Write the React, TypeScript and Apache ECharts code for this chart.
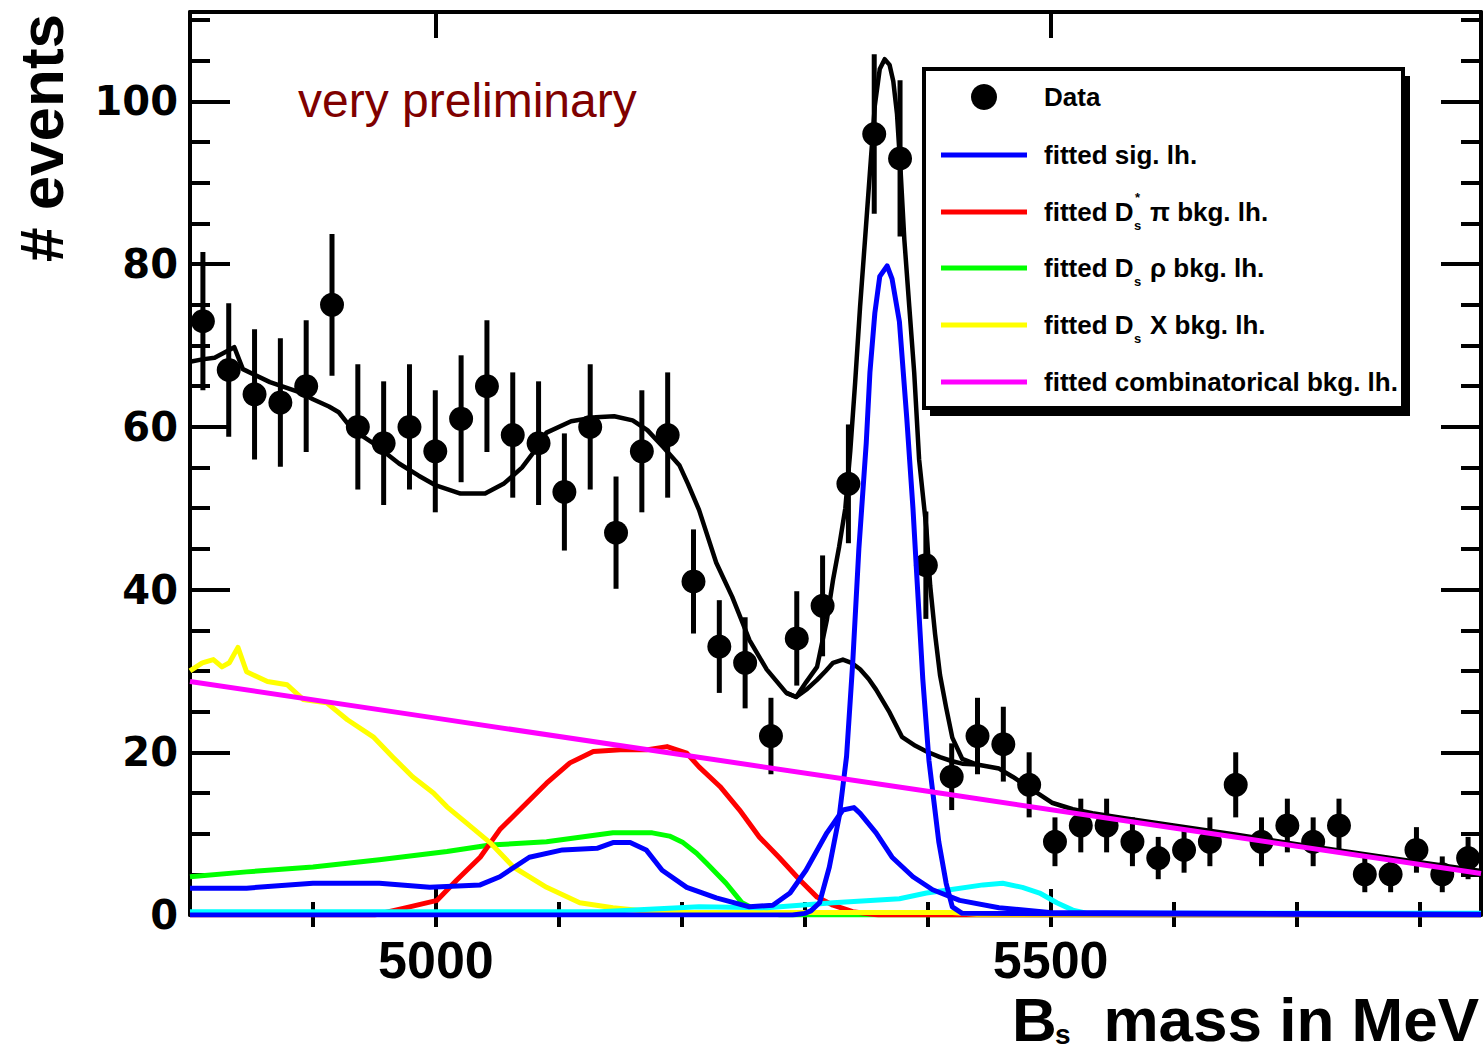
import React, { useEffect, useRef } from 'react';
import * as echarts from 'echarts';

// ---- Data histogram (bin centers in MeV, counts, errors) ----
const BIN_CENTERS = [
  4810.5, 4831.5, 4852.5, 4873.5, 4894.5, 4915.5, 4936.5, 4957.5, 4978.5, 4999.5,
  5020.5, 5041.5, 5062.5, 5083.5, 5104.5, 5125.5, 5146.5, 5167.5, 5188.5, 5209.5,
  5230.5, 5251.5, 5272.5, 5293.5, 5314.5, 5335.5, 5356.5, 5377.5, 5398.5, 5419.5,
  5440.5, 5461.5, 5482.5, 5503.5, 5524.5, 5545.5, 5566.5, 5587.5, 5608.5, 5629.5,
  5650.5, 5671.5, 5692.5, 5713.5, 5734.5, 5755.5, 5776.5, 5797.5, 5818.5, 5839.5,
];
const COUNTS = [
  73, 67, 64, 63, 65, 75, 60, 58, 60, 57,
  61, 65, 59, 58, 52, 60, 47, 57, 59, 41,
  33, 31, 22, 34, 38, 53, 96, 93, 43, 17,
  22, 21, 16, 9, 11, 11, 9, 7, 8, 9,
  16, 9, 11, 9, 11, 5, 5, 8, 5, 7,
];
const ERRORS = [
  8.5, 8.2, 8.0, 7.9, 8.1, 8.7, 7.7, 7.6, 7.7, 7.5,
  7.8, 8.1, 7.7, 7.6, 7.2, 7.7, 6.9, 7.5, 7.7, 6.4,
  5.7, 5.6, 4.7, 5.8, 6.2, 7.3, 9.8, 9.6, 6.6, 4.1,
  4.7, 4.6, 4.0, 3.0, 3.3, 3.3, 3.0, 2.6, 2.8, 3.0,
  4.0, 3.0, 3.3, 3.0, 3.3, 2.2, 2.2, 2.8, 2.2, 2.6,
];

// ---- Fit curves ----
const TOTAL_X = [4800, 4810, 4820, 4830, 4836, 4843, 4865, 4890, 4900, 4913, 4921, 4932, 4948, 4970, 4986, 5000, 5020, 5040, 5055, 5070, 5080, 5090, 5110, 5130, 5145, 5160, 5172, 5185, 5198, 5205, 5214, 5228, 5241, 5255, 5269, 5285, 5293, 5301, 5310, 5318, 5323, 5328, 5333, 5337, 5341, 5345, 5349, 5353, 5357, 5361, 5365, 5369, 5372, 5375, 5378, 5381, 5385, 5389, 5393, 5399, 5402, 5406, 5410, 5415, 5420, 5428, 5440, 5458, 5469, 5485, 5501, 5518, 5534, 5560, 5600, 5650, 5700, 5750, 5800, 5850];
const TOTAL_Y = [68.0, 68.3, 68.5, 69.3, 69.8, 67.1, 65.5, 64.2, 63.4, 62.5, 61.8, 59.7, 58.1, 55.5, 54.0, 52.8, 51.8, 51.8, 53.0, 55.0, 57.0, 59.3, 60.7, 61.2, 61.3, 60.8, 59.6, 57.5, 55.3, 53.0, 49.8, 43.3, 39.1, 33.8, 30.2, 27.3, 26.8, 28.6, 30.5, 36.3, 41.2, 45.3, 50.0, 57.0, 65.5, 74.8, 83.0, 91.3, 99.5, 104.0, 105.2, 104.5, 102.5, 98.5, 91.3, 83.0, 74.8, 66.7, 56.0, 47.4, 40.5, 34.5, 29.5, 25.5, 21.8, 19.2, 18.5, 18.0, 17.0, 15.4, 13.8, 13.0, 12.5, 11.9, 11.0, 9.9, 8.7, 7.6, 6.5, 5.4];

const BKGSUM_X = [5285, 5293, 5302, 5310, 5317, 5323, 5331, 5338, 5345, 5352, 5358, 5369, 5379, 5390, 5399, 5410, 5420, 5428, 5440];
const BKGSUM_Y = [27.3, 26.8, 27.8, 28.9, 30.0, 31.0, 31.4, 31.0, 30.2, 29.0, 27.7, 24.9, 21.9, 20.8, 20.1, 19.4, 18.9, 18.6, 18.5];

const SIG_X = [4800, 5290, 5300, 5305, 5312, 5320, 5328, 5334, 5339, 5344, 5350, 5353, 5357, 5361, 5367, 5371, 5377, 5383, 5388, 5391, 5396, 5401, 5405, 5409, 5415, 5420, 5428, 5850];
const SIG_Y = [0, 0, 0.2, 0.5, 1.5, 5.9, 12.1, 19.5, 31, 45, 58, 66.7, 74, 78.5, 79.8, 78.2, 72.9, 61, 50, 42, 29, 19, 14, 9, 3.9, 1.0, 0.2, 0];

const DSSTARPI_X = [4800, 4950, 4976, 5001, 5017, 5036, 5052, 5074, 5090, 5109, 5128, 5150, 5171, 5188, 5204, 5214, 5231, 5247, 5263, 5279, 5296, 5310, 5323, 5339, 5360, 5850];
const DSSTARPI_Y = [0, 0, 0.9, 1.8, 4.3, 7.1, 10.5, 13.8, 16.2, 18.7, 20.1, 20.3, 20.3, 20.7, 19.9, 18.2, 15.8, 12.9, 9.6, 7.1, 4.3, 2.2, 1.2, 0.4, 0, 0];

const DSRHO_X = [4800, 4846, 4900, 4954, 5009, 5044, 5090, 5144, 5176, 5190, 5201, 5212, 5220, 5236, 5249, 5261, 5280, 5850];
const DSRHO_Y = [4.7, 5.3, 5.9, 6.8, 7.8, 8.6, 9.0, 10.1, 10.1, 9.7, 8.9, 7.6, 6.4, 3.9, 1.5, 0.6, 0, 0];

const DSX_X = [4800, 4810, 4819, 4826, 4832, 4839, 4846, 4863, 4879, 4892, 4911, 4928, 4949, 4965, 4981, 4998, 5009, 5025, 5044, 5063, 5090, 5117, 5144, 5170, 5200, 5420, 5440, 5850];
const DSX_Y = [30.0, 31.0, 31.4, 30.5, 31.0, 32.9, 29.9, 28.7, 28.3, 26.5, 26.1, 24.0, 21.9, 19.4, 17.0, 15.0, 13.3, 11.3, 8.9, 5.9, 3.4, 1.5, 0.9, 0.5, 0.3, 0.3, 0.1, 0.1];

const COMB_X = [4800, 5000, 5200, 5400, 5600, 5850];
const COMB_Y = [28.7, 24.2, 19.7, 15.2, 10.7, 5.1];

const BLUE2_X = [4800, 4846, 4900, 4954, 4995, 5036, 5052, 5076, 5103, 5131, 5144, 5158, 5171, 5184, 5204, 5228, 5255, 5274, 5288, 5301, 5318, 5331, 5340, 5345, 5358, 5371, 5388, 5404, 5426, 5458, 5499, 5850];
const BLUE2_Y = [3.3, 3.3, 3.9, 3.9, 3.4, 3.7, 4.7, 7.1, 8.0, 8.2, 8.9, 8.9, 8.0, 5.5, 3.4, 2.1, 1.0, 1.2, 2.7, 5.5, 10.1, 12.9, 13.2, 12.5, 10.1, 7.1, 4.7, 3.1, 1.8, 0.9, 0.3, 0.1];

const CYAN_X = [4800, 5133, 5214, 5269, 5323, 5377, 5399, 5418, 5445, 5461, 5477, 5491, 5505, 5518, 5530, 5850];
const CYAN_Y = [0.4, 0.4, 1.0, 0.9, 1.5, 2.0, 2.7, 3.1, 3.7, 3.9, 3.4, 2.7, 1.5, 0.6, 0.2, 0.2];

// ---- Axis ticks ----
const X_MIN = 4800;
const X_MAX = 5850;
const Y_MIN = 0;
const Y_MAX = 111;
const X_MAJOR = [5000, 5500];
const X_MINOR = [4900, 5000, 5100, 5200, 5300, 5400, 5500, 5600, 5700, 5800];
const Y_MAJOR = [0, 20, 40, 60, 80, 100];
const Y_MINOR = [5, 10, 15, 20, 25, 30, 35, 40, 45, 50, 55, 60, 65, 70, 75, 80, 85, 90, 95, 100, 105, 110];

const LEGEND_LABELS = ['Data', 'fitted sig. lh.', 'fitted D', 'fitted D', 'fitted D', 'fitted combinatorical bkg. lh.'];

const pts = (xs: number[], ys: number[]) => xs.map((x, i) => [x, ys[i]]);

const BOLD = { fontFamily: 'Liberation Sans', fontWeight: 'bold' as const };

function makeText(text: string, x: number, y: number, size: number, align: string, extra: any = {}) {
  return {
    type: 'text',
    x,
    y,
    z: 100,
    ...extra,
    style: {
      text,
      fontSize: size,
      fontFamily: extra.fontFamily || 'Liberation Sans',
      fontWeight: extra.fontWeight || 'bold',
      fill: extra.fill || '#000',
      align,
      textAlign: align,
      verticalAlign: 'middle',
      textVerticalAlign: 'middle',
    },
  };
}

function axisBase(extra: any) {
  return {
    type: 'value',
    splitLine: { show: false },
    axisPointer: { show: false },
    ...extra,
  };
}

export default function App() {
  const ref = useRef<HTMLDivElement>(null);

  useEffect(() => {
    if (!ref.current) return;
    const chart = echarts.init(ref.current, null, { renderer: 'svg' });

    const tickStyle = { color: '#000', width: 4 };
    const lineAx = { show: true, onZero: false, lineStyle: { color: '#000', width: 4 } };

    const xAxes = [
      axisBase({
        position: 'bottom', min: X_MIN, max: X_MAX, axisLine: lineAx,
        axisTick: { show: true, inside: true, length: 26, customValues: X_MAJOR, lineStyle: tickStyle },
        axisLabel: {
          show: true, customValues: X_MAJOR, margin: 19, fontSize: 52, color: '#000', ...BOLD,
          formatter: (v: number) => String(Math.round(v)),
        },
      }),
      axisBase({
        position: 'bottom', min: X_MIN, max: X_MAX, axisLine: { show: false },
        axisTick: { show: true, inside: true, length: 13, customValues: X_MINOR, lineStyle: tickStyle },
        axisLabel: { show: false },
      }),
      axisBase({
        position: 'top', min: X_MIN, max: X_MAX, axisLine: lineAx,
        axisTick: { show: true, inside: true, length: 26, customValues: X_MAJOR, lineStyle: tickStyle },
        axisLabel: { show: false },
      }),
      axisBase({
        position: 'top', min: X_MIN, max: X_MAX, axisLine: { show: false },
        axisTick: { show: true, inside: true, length: 12, customValues: X_MINOR, lineStyle: tickStyle },
        axisLabel: { show: false },
      }),
    ];
    const yAxes = [
      axisBase({
        position: 'left', min: Y_MIN, max: Y_MAX, axisLine: lineAx,
        axisTick: { show: true, inside: true, length: 40, customValues: Y_MAJOR, lineStyle: tickStyle },
        axisLabel: {
          show: true, customValues: Y_MAJOR, margin: 12, fontSize: 40, color: '#000',
          fontFamily: 'DejaVu Sans', fontWeight: 'bold',
          formatter: (v: number) => String(Math.round(v)),
        },
      }),
      axisBase({
        position: 'left', min: Y_MIN, max: Y_MAX, axisLine: { show: false },
        axisTick: { show: true, inside: true, length: 20, customValues: Y_MINOR, lineStyle: tickStyle },
        axisLabel: { show: false },
      }),
      axisBase({
        position: 'right', min: Y_MIN, max: Y_MAX, axisLine: lineAx,
        axisTick: { show: true, inside: true, length: 40, customValues: Y_MAJOR, lineStyle: tickStyle },
        axisLabel: { show: false },
      }),
      axisBase({
        position: 'right', min: Y_MIN, max: Y_MAX, axisLine: { show: false },
        axisTick: { show: true, inside: true, length: 20, customValues: Y_MINOR, lineStyle: tickStyle },
        axisLabel: { show: false },
      }),
    ];

    const curve = (name: string, xs: number[], ys: number[], color: string, width: number, z: number) => ({
      name,
      type: 'line',
      data: pts(xs, ys),
      xAxisIndex: 0,
      yAxisIndex: 0,
      showSymbol: false,
      symbol: 'none',
      smooth: false,
      clip: true,
      z,
      lineStyle: { color, width, join: 'round' },
      itemStyle: { color },
      emphasis: { disabled: true },
      silent: true,
    });

    const legendLineXs = [941, 1027];
    const legendRowsY = [97, 155, 212, 268, 325, 382];
    const legendColors = ['#000', '#0000ff', '#ff0000', '#00ff00', '#ffff00', '#ff00ff'];

    const graphics: any[] = [
      // legend shadow and box
      { type: 'rect', z: 90, shape: { x: 930, y: 76, width: 480, height: 340 }, style: { fill: '#000' } },
      { type: 'rect', z: 91, shape: { x: 924, y: 69, width: 479, height: 339 }, style: { fill: '#fff', stroke: '#000', lineWidth: 4 } },
      { type: 'circle', z: 100, shape: { cx: 984, cy: legendRowsY[0], r: 13 }, style: { fill: '#000' } },
    ];
    for (let i = 1; i < 6; i++) {
      graphics.push({
        type: 'line', z: 100,
        shape: { x1: legendLineXs[0], y1: legendRowsY[i], x2: legendLineXs[1], y2: legendRowsY[i] },
        style: { stroke: legendColors[i], lineWidth: 5 },
      });
    }
    graphics.push(makeText(LEGEND_LABELS[0], 1044, legendRowsY[0], 26, 'left'));
    graphics.push(makeText(LEGEND_LABELS[1], 1044, legendRowsY[1], 26, 'left'));
    graphics.push(makeText(LEGEND_LABELS[2], 1044, legendRowsY[2], 26, 'left'));
    graphics.push(makeText('s', 1134, legendRowsY[2] + 13, 13, 'left'));
    graphics.push(makeText('*', 1135, legendRowsY[2] - 15, 13, 'left'));
    graphics.push(makeText('π bkg. lh.', 1150, legendRowsY[2], 26, 'left', { fontWeight: 'bold' }));
    graphics.push(makeText(LEGEND_LABELS[3], 1044, legendRowsY[3], 26, 'left'));
    graphics.push(makeText('s', 1134, legendRowsY[3] + 13, 13, 'left'));
    graphics.push(makeText('ρ bkg. lh.', 1150, legendRowsY[3], 26, 'left'));
    graphics.push(makeText(LEGEND_LABELS[4], 1044, legendRowsY[4], 26, 'left'));
    graphics.push(makeText('s', 1134, legendRowsY[4] + 13, 13, 'left'));
    graphics.push(makeText('X bkg. lh.', 1150, legendRowsY[4], 26, 'left'));
    graphics.push(makeText(LEGEND_LABELS[5], 1044, legendRowsY[5], 26, 'left'));

    // annotation
    graphics.push(makeText('very preliminary', 298, 100, 48, 'left', { fontWeight: 'normal', fill: '#7f0000' }));
    // axis titles
    graphics.push(makeText('# events', 41, 138, 62, 'center', { rotation: Math.PI / 2 }));
    graphics.push(makeText('B', 1012, 1019, 62, 'left'));
    graphics.push(makeText('s', 1055, 1034, 28, 'left'));
    graphics.push(makeText('mass in MeV', 1479, 1019, 62, 'right'));

    const option: any = {
      animation: false,
      backgroundColor: '#fff',
      grid: { left: 190, right: 3, top: 12, bottom: 138, containLabel: false, outerBoundsMode: 'none' },
      xAxis: xAxes,
      yAxis: yAxes,
      graphic: graphics,
      series: [
        {
          name: 'Data errors',
          type: 'custom',
          xAxisIndex: 0,
          yAxisIndex: 0,
          z: 2,
          silent: true,
          data: BIN_CENTERS.map((x, i) => [x, COUNTS[i] - ERRORS[i], COUNTS[i] + ERRORS[i]]),
          encode: { x: 0, y: [1, 2] },
          renderItem: (params: any, api: any) => {
            const p1 = api.coord([api.value(0), api.value(1)]);
            const p2 = api.coord([api.value(0), api.value(2)]);
            return {
              type: 'line',
              shape: { x1: p1[0], y1: p1[1], x2: p2[0], y2: p2[1] },
              style: { stroke: '#000', lineWidth: 5 },
            };
          },
        },
        {
          name: 'Data',
          type: 'scatter',
          xAxisIndex: 0,
          yAxisIndex: 0,
          z: 3,
          symbol: 'circle',
          symbolSize: 24,
          itemStyle: { color: '#000', opacity: 1 },
          silent: true,
          data: pts(BIN_CENTERS, COUNTS),
        },
        curve('total fit', TOTAL_X, TOTAL_Y, '#000000', 4.5, 4),
        curve('background sum', BKGSUM_X, BKGSUM_Y, '#000000', 4.5, 4),
        curve('fitted Ds rho bkg. lh.', DSRHO_X, DSRHO_Y, '#00ff00', 5, 5),
        curve('fitted Ds* pi bkg. lh.', DSSTARPI_X, DSSTARPI_Y, '#ff0000', 5, 5),
        curve('fitted Ds X bkg. lh.', DSX_X, DSX_Y, '#ffff00', 5, 5),
        curve('other component (cyan)', CYAN_X, CYAN_Y, '#00ffff', 5, 5),
        curve('other component (blue)', BLUE2_X, BLUE2_Y, '#0000ff', 5, 5),
        curve('fitted sig. lh.', SIG_X, SIG_Y, '#0000ff', 5, 5),
        curve('fitted combinatorical bkg. lh.', COMB_X, COMB_Y, '#ff00ff', 5, 6),
      ],
    };

    chart.setOption(option);
    return () => chart.dispose();
  }, []);

  return (
    <div
      ref={ref}
      style={{ position: 'fixed', left: 0, top: 0, width: 1484, height: 1053, background: '#fff' }}
    />
  );
}
